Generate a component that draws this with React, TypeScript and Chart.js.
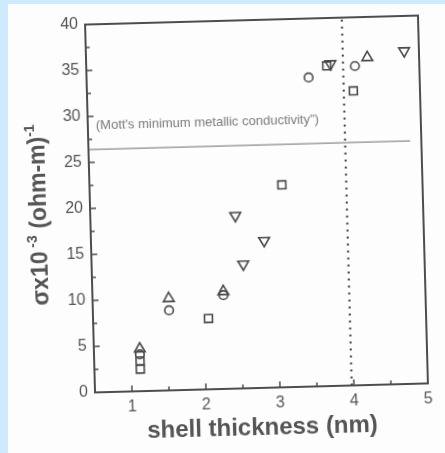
import { useEffect, useRef } from "react";
import { Chart, registerables } from "chart.js";

Chart.register(...registerables);

// Conductivity (x10^3 (ohm-m)^-1) against shell thickness (nm), one pair of arrays per marker family
const squareX = [1.12, 1.12, 2.06, 3.1, 3.75, 4.1];
const squareY = [2.4, 3.3, 7.7, 22.0, 34.8, 32.0];
const circleX = [1.12, 1.53, 2.27, 3.5, 4.13];
const circleY = [4.0, 8.7, 10.2, 33.6, 34.7];
const triUpX = [1.12, 1.53, 2.27, 4.3];
const triUpY = [4.6, 10.0, 10.6, 35.6];
const triDownX = [2.46, 2.55, 2.84, 3.8, 4.8];
const triDownY = [18.8, 13.5, 16.0, 35.0, 36.2];

// Axis ticks
const xTickValues = [1, 2, 3, 4, 5];
const xMinorValues = [1.5, 2.5, 3.5, 4.5];
const yTickValues = [0, 5, 10, 15, 20, 25, 30, 35, 40];
const yMinorValues = [2.5, 7.5, 12.5, 17.5, 22.5, 27.5, 32.5, 37.5];

// Reference lines
const mottLevel = 26.4;
const mottLineEnd = 4.85;
const mottLabel = "(Mott's minimum metallic conductivity\")";
const mottLabelLevel = 29.0;
const boundaryThickness = 3.97;

const INK = "#555555";
const FONT = '"Liberation Sans", Arial, sans-serif';

const pairs = (xs: number[], ys: number[]) => xs.map((x, i) => ({ x, y: ys[i] }));

const markerBase = {
  borderColor: "#4a4a4a",
  backgroundColor: "rgba(0,0,0,0)",
  borderWidth: 1.6,
  pointBorderWidth: 1.6,
  pointHoverRadius: 0,
};

const decorations = {
  id: "decorations",
  beforeDatasetsDraw(chart: any) {
    const { ctx, chartArea: a, scales } = chart;
    const x = scales.x;
    const y = scales.y;
    ctx.save();

    // Mott's minimum metallic conductivity
    const my = y.getPixelForValue(mottLevel);
    ctx.strokeStyle = "#8a8a8a";
    ctx.lineWidth = 1.2;
    ctx.beginPath();
    ctx.moveTo(x.getPixelForValue(x.min), my);
    ctx.lineTo(x.getPixelForValue(mottLineEnd), my);
    ctx.stroke();

    ctx.font = `13px ${FONT}`;
    ctx.fillStyle = "#7a7a7a";
    ctx.textBaseline = "middle";
    ctx.textAlign = "left";
    ctx.fillText(mottLabel, a.left + 8, y.getPixelForValue(mottLabelLevel));

    // dotted boundary
    const bx = x.getPixelForValue(boundaryThickness);
    ctx.strokeStyle = "#404040";
    ctx.lineWidth = 2;
    ctx.setLineDash([2, 5]);
    ctx.beginPath();
    ctx.moveTo(bx, y.getPixelForValue(y.min));
    ctx.lineTo(bx, y.getPixelForValue(y.max));
    ctx.stroke();
    ctx.restore();
  },
  afterDraw(chart: any) {
    const { ctx, chartArea: a, scales } = chart;
    const x = scales.x;
    const y = scales.y;
    ctx.save();

    // frame
    ctx.strokeStyle = "#4d4d4d";
    ctx.lineWidth = 2;
    ctx.strokeRect(a.left, a.top, a.right - a.left, a.bottom - a.top);

    // inward tick marks
    ctx.lineWidth = 1.5;
    ctx.beginPath();
    const yTick = (v: number, len: number) => {
      const p = y.getPixelForValue(v);
      ctx.moveTo(a.left, p);
      ctx.lineTo(a.left + len, p);
    };
    const xTick = (v: number, len: number) => {
      const p = x.getPixelForValue(v);
      ctx.moveTo(p, a.bottom);
      ctx.lineTo(p, a.bottom - len);
    };
    yTickValues.forEach((v) => yTick(v, 6));
    yMinorValues.forEach((v) => yTick(v, 4));
    xTickValues.forEach((v) => xTick(v, 6));
    xMinorValues.forEach((v) => xTick(v, 4));
    ctx.stroke();

    // axis titles
    ctx.fillStyle = INK;
    ctx.textBaseline = "alphabetic";
    ctx.textAlign = "center";
    ctx.font = `bold 24px ${FONT}`;
    ctx.fillText("shell thickness (nm)", (a.left + a.right) / 2, a.bottom + 47);

    const parts = [
      { t: "\u03C3x10", sup: false },
      { t: " -3", sup: true },
      { t: " (ohm-m)", sup: false },
      { t: "-1", sup: true },
    ];
    const mainFont = `bold 23px ${FONT}`;
    const supFont = `bold 14px ${FONT}`;
    let total = 0;
    const widths = parts.map((p) => {
      ctx.font = p.sup ? supFont : mainFont;
      const w = ctx.measureText(p.t).width;
      total += w;
      return w;
    });
    ctx.translate(a.left - 44, (a.top + a.bottom) / 2 + 5);
    ctx.rotate(-Math.PI / 2);
    ctx.textAlign = "left";
    let cx = -total / 2;
    parts.forEach((p, i) => {
      ctx.font = p.sup ? supFont : mainFont;
      ctx.fillText(p.t, cx, p.sup ? -10 : 0);
      cx += widths[i];
    });
    ctx.restore();
  },
};

export default function App() {
  const ref = useRef<HTMLCanvasElement>(null);

  useEffect(() => {
    if (!ref.current) return;
    const chart = new Chart(ref.current, {
      type: "scatter",
      data: {
        datasets: [
          { ...markerBase, label: "squares", data: pairs(squareX, squareY), pointStyle: "rect", pointRadius: 5.6 },
          { ...markerBase, label: "circles", data: pairs(circleX, circleY), pointStyle: "circle", pointRadius: 4.3 },
          { ...markerBase, label: "up", data: pairs(triUpX, triUpY), pointStyle: "triangle", pointRadius: 6.2 },
          {
            ...markerBase,
            label: "down",
            data: pairs(triDownX, triDownY),
            pointStyle: "triangle",
            pointRotation: 180,
            pointRadius: 6.2,
          },
        ] as any,
      },
      options: {
        responsive: false,
        animation: false,
        devicePixelRatio: 1,
        layout: { padding: { left: 0, top: 20, right: 22, bottom: 0 } },
        plugins: { legend: { display: false }, tooltip: { enabled: false } },
        events: [],
        scales: {
          x: {
            type: "linear",
            min: 0.5,
            max: 5,
            grid: { display: false, drawTicks: false },
            border: { display: false },
            afterBuildTicks: (s: any) => {
              s.ticks = xTickValues.map((value) => ({ value }));
            },
            afterFit: (s: any) => {
              s.height = 65;
            },
            ticks: {
              color: INK,
              font: { family: FONT, size: 16 },
              padding: 6,
              maxRotation: 0,
              autoSkip: false,
            },
          },
          y: {
            type: "linear",
            min: 0,
            max: 40,
            grid: { display: false, drawTicks: false },
            border: { display: false },
            afterBuildTicks: (s: any) => {
              s.ticks = yTickValues.map((value) => ({ value }));
            },
            afterFit: (s: any) => {
              s.width = 90;
            },
            ticks: {
              color: INK,
              font: { family: FONT, size: 16 },
              padding: 7,
              autoSkip: false,
            },
          },
        },
      } as any,
      plugins: [decorations],
    });
    return () => chart.destroy();
  }, []);

  return (
    <div
      style={{
        position: "fixed",
        left: 0,
        top: 0,
        width: 445,
        height: 453,
        background: "#cfe9fd",
        overflow: "hidden",
      }}
    >
      <div style={{ position: "absolute", left: 8, top: 4, right: 0, bottom: 0, background: "#fdfdfd" }} />
      <canvas
        ref={ref}
        width={445}
        height={453}
        style={{
          position: "absolute",
          left: 0,
          top: 0,
          width: 445,
          height: 453,
          transform: "rotate(-1.55deg)",
          transformOrigin: "256.25px 204.25px",
        }}
      />
    </div>
  );
}
